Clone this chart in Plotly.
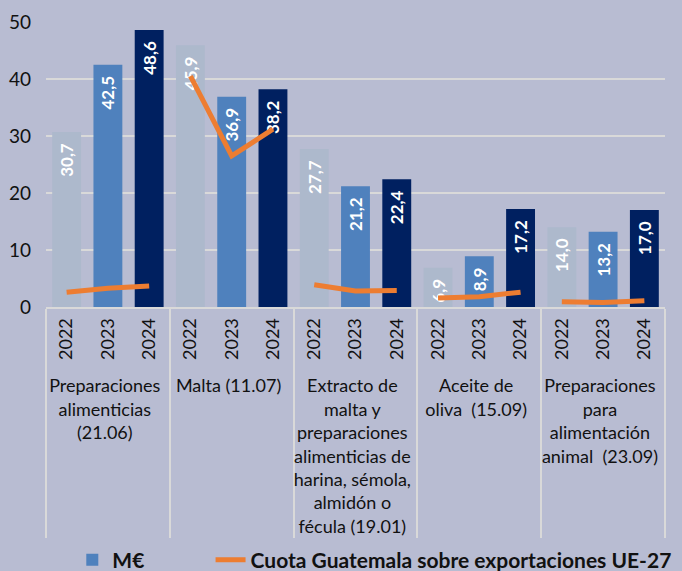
import plotly.graph_objects as go

groups = ["Preparaciones<br>alimenticias<br>(21.06)",
          "Malta (11.07)",
          "Extracto de<br>malta y<br>preparaciones<br>alimenticias de<br>harina, sémola,<br>almidón o<br>fécula (19.01)",
          "Aceite de<br>oliva  (15.09)",
          "Preparaciones<br>para<br>alimentación<br>animal  (23.09)"]
years = ["2022", "2023", "2024"]
values_2022 = [30.7, 45.9, 27.7, 6.9, 14.0]
values_2023 = [42.5, 36.9, 21.2, 8.9, 13.2]
values_2024 = [48.6, 38.2, 22.4, 17.2, 17.0]
cuota = [[2.6, 3.3, 3.7],
         [40.5, 26.5, 31.2],
         [3.9, 2.8, 2.9],
         [1.6, 1.8, 2.6],
         [0.9, 0.8, 1.1]]

bar_colors = {"2022": "#adb9cc", "2023": "#4f81bd", "2024": "#002060"}
series = {"2022": values_2022, "2023": values_2023, "2024": values_2024}
FONT = "Lato"
PAD = "\u00a0\u00a0"

fig = go.Figure()
for yr in years:
    vals = series[yr]
    fig.add_trace(go.Bar(
        x=[groups, [yr] * len(groups)],
        y=vals,
        width=0.7,
        marker=dict(color=bar_colors[yr], line=dict(width=0)),
        text=[f"{v:.1f}".replace(".", ",") + PAD for v in vals],
        textposition="inside",
        insidetextanchor="end",
        textangle=-90,
        constraintext="none",
        cliponaxis=False,
        textfont=dict(color="white", size=17, family=FONT, weight="bold"),
        name="M€" + "\u00a0" * 12,
        showlegend=(yr == "2023"),
        legendrank=1,
    ))

for i, g in enumerate(groups):
    fig.add_trace(go.Scatter(
        x=[[g] * 3, years],
        y=cuota[i],
        mode="lines",
        line=dict(color="#ed7d31", width=5),
        name="Cuota Guatemala sobre exportaciones UE-27",
        legendgroup="cuota",
        showlegend=(i == 0),
        legendrank=2,
    ))

fig.update_layout(
    width=682, height=571,
    margin=dict(l=46, r=17, t=22, b=264, autoexpand=False),
    paper_bgcolor="#b8bcd2",
    plot_bgcolor="#b8bcd2",
    barmode="overlay",
    font=dict(family=FONT, size=18, color="#111111"),
    legend=dict(orientation="h", xref="container", yref="container",
                x=0.106, xanchor="left", y=0.019, yanchor="middle",
                font=dict(size=21, family=FONT, weight="bold", color="#111111"),
                bgcolor="rgba(0,0,0,0)"),
)
fig.update_yaxes(range=[0, 50], dtick=10, showgrid=True, gridcolor="#d9d9d9",
                 gridwidth=2, zeroline=False, showline=False, ticks="",
                 automargin=False, ticklabelstandoff=14,
                 tickfont=dict(size=19, color="#111111"))
fig.update_xaxes(type="multicategory", showline=True, linecolor="#d9d9d9", linewidth=2,
                 showdividers=True, dividercolor="#d9d9d9", dividerwidth=2,
                 automargin=False, ticklabelstandoff=2,
                 tickangle=-90, tickfont=dict(size=18, color="#111111"))

fig.write_html("out.html", config={"displayModeBar": False},
               post_script="document.body.style.margin='0';document.body.style.background='#b8bcd2';")
